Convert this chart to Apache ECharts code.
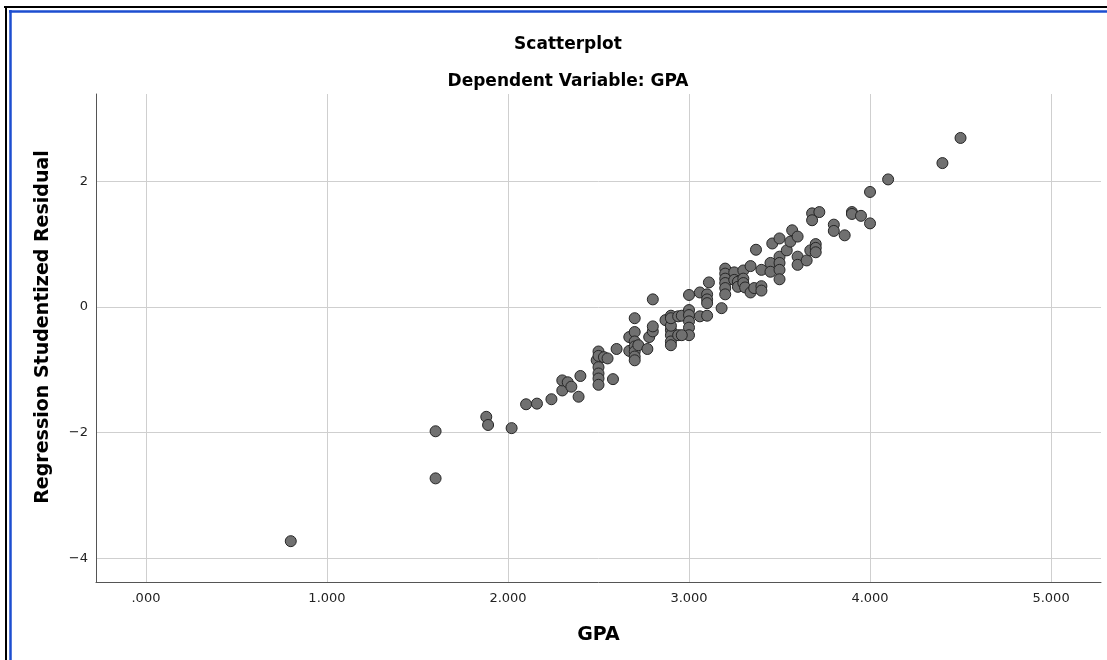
<!DOCTYPE html>
<html>
<head>
<meta charset="utf-8">
<script src="https://cdn.jsdelivr.net/npm/echarts@6/dist/echarts.min.js"></script>
<style>
html,body{margin:0;padding:0;background:#fff;}
#chart{width:1107px;height:660px;}
</style>
</head>
<body>
<div id="chart"></div>
<script>
// GPA (x) values
const gpa = [
  0.80, 1.60, 1.60, 1.88, 1.89, 2.02, 2.10, 2.16, 2.24, 2.30,
  2.30, 2.33, 2.35, 2.40, 2.39, 2.50, 2.49, 2.50, 2.50, 2.50,
  2.50, 2.50, 2.53, 2.55, 2.58, 2.60, 2.67, 2.67, 2.70, 2.70,
  2.70, 2.70, 2.70, 2.70, 2.70, 2.72, 2.77, 2.78, 2.80, 2.80,
  2.80, 2.87, 2.90, 2.90, 2.90, 2.90, 2.90, 2.90, 2.90, 2.94,
  2.94, 2.96, 3.00, 3.00, 3.00, 3.00, 3.00, 3.00, 2.96, 3.06,
  3.06, 3.10, 3.10, 3.10, 3.11, 3.10, 3.18, 3.20, 3.20, 3.20,
  3.20, 3.20, 3.20, 3.25, 3.25, 3.27, 3.27, 3.30, 3.30, 3.30,
  3.31, 3.34, 3.34, 3.36, 3.37, 3.40, 3.40, 3.40, 3.45, 3.45,
  3.46, 3.50, 3.50, 3.50, 3.50, 3.50, 3.54, 3.56, 3.57, 3.60,
  3.60, 3.60, 3.65, 3.67, 3.70, 3.70, 3.70, 3.68, 3.68, 3.72,
  3.80, 3.80, 3.86, 3.90, 3.90, 3.95, 4.00, 4.00, 4.10, 4.40,
  4.50
];
// Regression studentized residual (y) values
const residual = [
  -3.73, -1.98, -2.73, -1.75, -1.88, -1.93, -1.55, -1.54, -1.47, -1.33,
  -1.17, -1.20, -1.27, -1.10, -1.43, -0.71, -0.85, -0.96, -1.06, -1.14,
  -1.24, -0.78, -0.80, -0.82, -1.15, -0.67, -0.48, -0.70, -0.18, -0.40,
  -0.55, -0.63, -0.71, -0.79, -0.85, -0.61, -0.67, -0.48, -0.39, -0.31,
   0.12, -0.21, -0.14, -0.37, -0.45, -0.55, -0.61, -0.30, -0.18, -0.15,
  -0.45, -0.14, -0.05, -0.13, -0.23, -0.33, -0.45,  0.19, -0.45,  0.23,
  -0.15,  0.20,  0.12,  0.06,  0.39, -0.14, -0.02,  0.61,  0.53,  0.45,
   0.38,  0.30,  0.20,  0.55,  0.43,  0.40,  0.32,  0.58,  0.45,  0.38,
   0.31,  0.23,  0.65,  0.30,  0.91,  0.59,  0.33,  0.26,  0.70,  0.56,
   1.01,  1.09,  0.80,  0.70,  0.59,  0.44,  0.90,  1.04,  1.22,  1.12,
   0.80,  0.67,  0.74,  0.90,  1.00,  0.94,  0.87,  1.49,  1.38,  1.51,
   1.31,  1.21,  1.14,  1.51,  1.48,  1.45,  1.83,  1.33,  2.03,  2.29,
   2.69
];
const xTickLabels = ['.000', '1.000', '2.000', '3.000', '4.000', '5.000'];

const points = gpa.map((g, i) => [g, residual[i]]);

const chart = echarts.init(document.getElementById('chart'), null, {renderer: 'canvas'});
const fontFam = 'DejaVu Sans';
chart.setOption({
  animation: false,
  backgroundColor: '#ffffff',
  title: [
    {text: 'Scatterplot', left: 563, top: 31, textAlign: 'center',
     textStyle: {fontFamily: fontFam, fontWeight: 'bold', fontSize: 17, color: '#000'}},
    {text: 'Dependent Variable: GPA', left: 563, top: 68, textAlign: 'center',
     textStyle: {fontFamily: fontFam, fontWeight: 'bold', fontSize: 17, color: '#000'}}
  ],
  grid: {left: 96, right: 6, top: 94, bottom: 78, containLabel: false},
  xAxis: {
    type: 'value',
    min: -0.276, max: 5.276, splitNumber: 5,
    name: 'GPA', nameLocation: 'middle', nameGap: 44,
    nameTextStyle: {fontFamily: fontFam, fontWeight: 'bold', fontSize: 19, color: '#000'},
    axisLine: {show: true, onZero: false, lineStyle: {color: '#555', width: 1}},
    axisTick: {show: false},
    axisLabel: {
      showMinLabel: false, showMaxLabel: false, margin: 10,
      fontFamily: fontFam, fontSize: 13, color: '#222',
      formatter: v => { const k = Math.round(v); return Math.abs(v - k) < 1e-6 ? (xTickLabels[k] || '') : ''; }
    },
    splitLine: {show: true, showMinLine: false, showMaxLine: false, lineStyle: {color: '#cfcfcf', width: 1}}
  },
  yAxis: {
    type: 'value',
    min: -4.38, max: 3.39, splitNumber: 4,
    name: 'Regression Studentized Residual', nameLocation: 'middle', nameGap: 43, nameRotate: 90,
    nameTextStyle: {fontFamily: fontFam, fontWeight: 'bold', fontSize: 19, color: '#000', padding: [0, 0, 0, 22]},
    axisLine: {show: true, onZero: false, lineStyle: {color: '#555', width: 1}},
    axisTick: {show: false},
    axisLabel: {
      showMinLabel: false, showMaxLabel: false, margin: 8,
      fontFamily: fontFam, fontSize: 13, color: '#222',
      formatter: v => (v < 0 ? '\u2212' + Math.abs(v) : String(v))
    },
    splitLine: {show: true, showMinLine: false, showMaxLine: false, lineStyle: {color: '#cfcfcf', width: 1}}
  },
  series: [{
    type: 'scatter',
    data: points,
    symbol: 'circle',
    symbolSize: 11,
    itemStyle: {color: '#707070', borderColor: '#262626', borderWidth: 1, opacity: 1}
  }],
  graphic: [
    {type: 'line', shape: {x1: 4, y1: 7, x2: 1107, y2: 7}, style: {stroke: '#000', lineWidth: 2}, silent: true},
    {type: 'line', shape: {x1: 6, y1: 6, x2: 6, y2: 660}, style: {stroke: '#000', lineWidth: 2}, silent: true},
    {type: 'line', shape: {x1: 9, y1: 11.5, x2: 1107, y2: 11.5}, style: {stroke: '#1d4ed0', lineWidth: 2.5}, silent: true},
    {type: 'line', shape: {x1: 10.5, y1: 10, x2: 10.5, y2: 660}, style: {stroke: '#1d4ed0', lineWidth: 2.5}, silent: true}
  ]
});
</script>
</body>
</html>
